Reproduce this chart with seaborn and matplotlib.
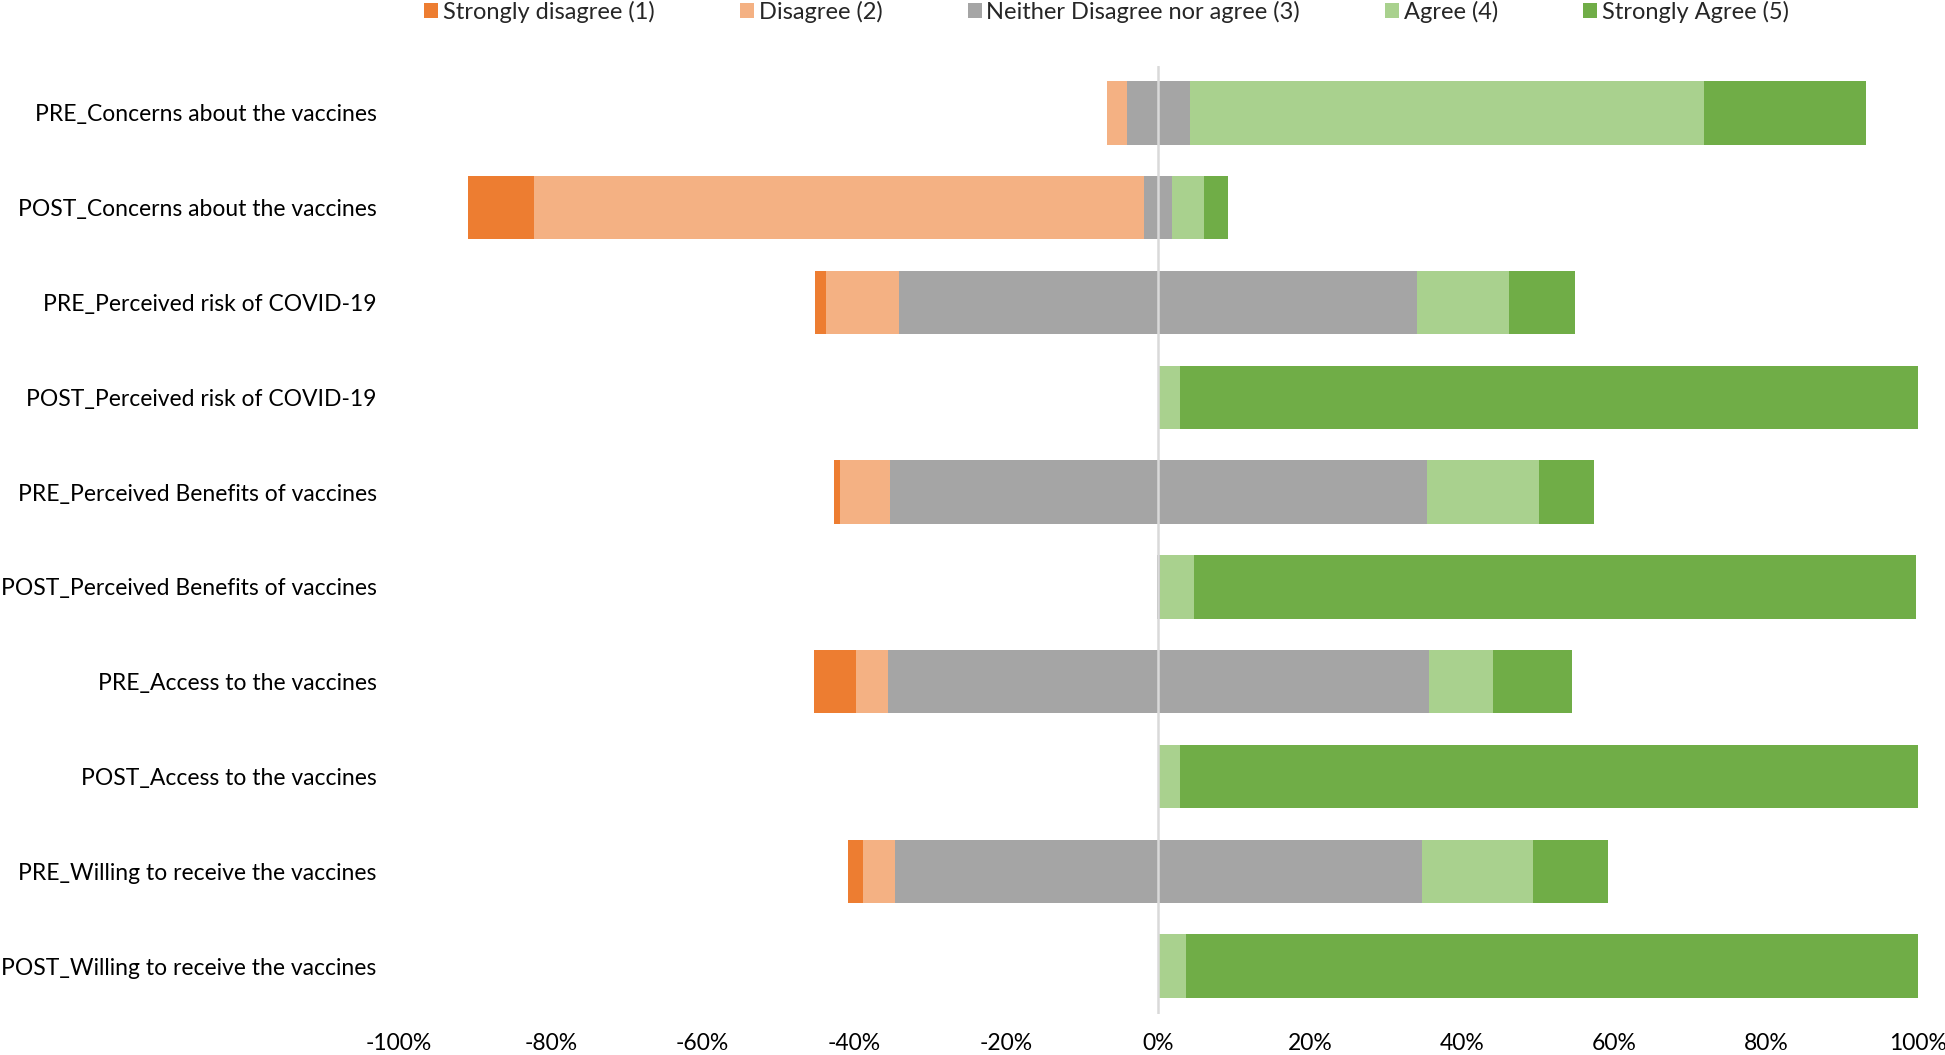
import numpy as np
import pandas as pd
import matplotlib
matplotlib.use("Agg")
import matplotlib.pyplot as plt
import seaborn as sns
from matplotlib.patches import Patch

# categorias (de cima para baixo)
items = [
    "PRE_Concerns about the vaccines",
    "POST_Concerns about the vaccines",
    "PRE_Perceived risk of COVID-19",
    "POST_Perceived risk of COVID-19",
    "PRE_Perceived Benefits of vaccines",
    "POST_Perceived Benefits of vaccines",
    "PRE_Access to the vaccines",
    "POST_Access to the vaccines",
    "PRE_Willing to receive the vaccines",
    "POST_Willing to receive the vaccines",
]

# percentuais por resposta
strongly_disagree = [0.0, 8.7, 1.4, 0.0, 0.8, 0.0, 5.6, 0.0, 1.9, 0.0]
disagree = [2.6, 80.3, 9.7, 0.0, 6.6, 0.0, 4.2, 0.0, 4.3, 0.0]
neutral = [8.4, 3.7, 68.2, 0.0, 70.7, 0.5, 71.2, 0.0, 69.3, 0.0]
agree = [67.6, 4.2, 12.1, 2.9, 14.7, 4.4, 8.5, 2.9, 14.7, 3.6]
strongly_agree = [21.4, 3.1, 8.6, 97.1, 7.3, 95.1, 10.4, 97.1, 9.8, 96.4]

labels = ["Strongly disagree (1)", "Disagree (2)", "Neither Disagree nor agree (3)",
          "Agree (4)", "Strongly Agree (5)"]
colors = ["#ED7D31", "#F4B183", "#A5A5A5", "#A9D18E", "#70AD47"]

df = pd.DataFrame({
    "item": items,
    labels[0]: strongly_disagree,
    labels[1]: disagree,
    labels[2]: neutral,
    labels[3]: agree,
    labels[4]: strongly_agree,
})

sns.set_style("white")
plt.rcParams["font.family"] = ["Lato", "DejaVu Sans"]

fig = plt.figure(figsize=(19.45, 10.55), dpi=100)
ax = fig.add_axes([0.2051, 0.0393, 0.781, 0.8986])

# barras divergentes: metade do neutro de cada lado do zero
start = -(df[labels[0]] + df[labels[1]] + df[labels[2]] / 2)
y = np.arange(len(df))
for lab, col in zip(labels, colors):
    ax.barh(y, df[lab], left=start, height=0.67, color=col, edgecolor="none", zorder=2)
    start = start + df[lab]

ax.axvline(0, color="#D9D9D9", lw=1.8, zorder=3)

ax.set_xlim(-100, 100)
ax.set_ylim(len(df) - 0.5, -0.5)
ax.set_yticks(y)
ax.set_yticklabels(df["item"])
ticks = np.arange(-100, 101, 20)
ax.set_xticks(ticks)
ax.set_xticklabels([f"{t}%" for t in ticks])
ax.tick_params(axis="y", length=0, pad=16, labelsize=16.5, labelcolor="black")
ax.tick_params(axis="x", length=0, pad=14, labelsize=16.5, labelcolor="black")
sns.despine(ax=ax, left=True, bottom=True)

handles = [Patch(facecolor=c, edgecolor="none") for c in colors]
fig.legend(handles, labels, loc="center", bbox_to_anchor=(0.569, 0.989), ncol=5,
           frameon=False, fontsize=17, handlelength=0.6, handleheight=0.6,
           handletextpad=0.2, columnspacing=3.6)

fig.savefig("out.png", dpi=100)
